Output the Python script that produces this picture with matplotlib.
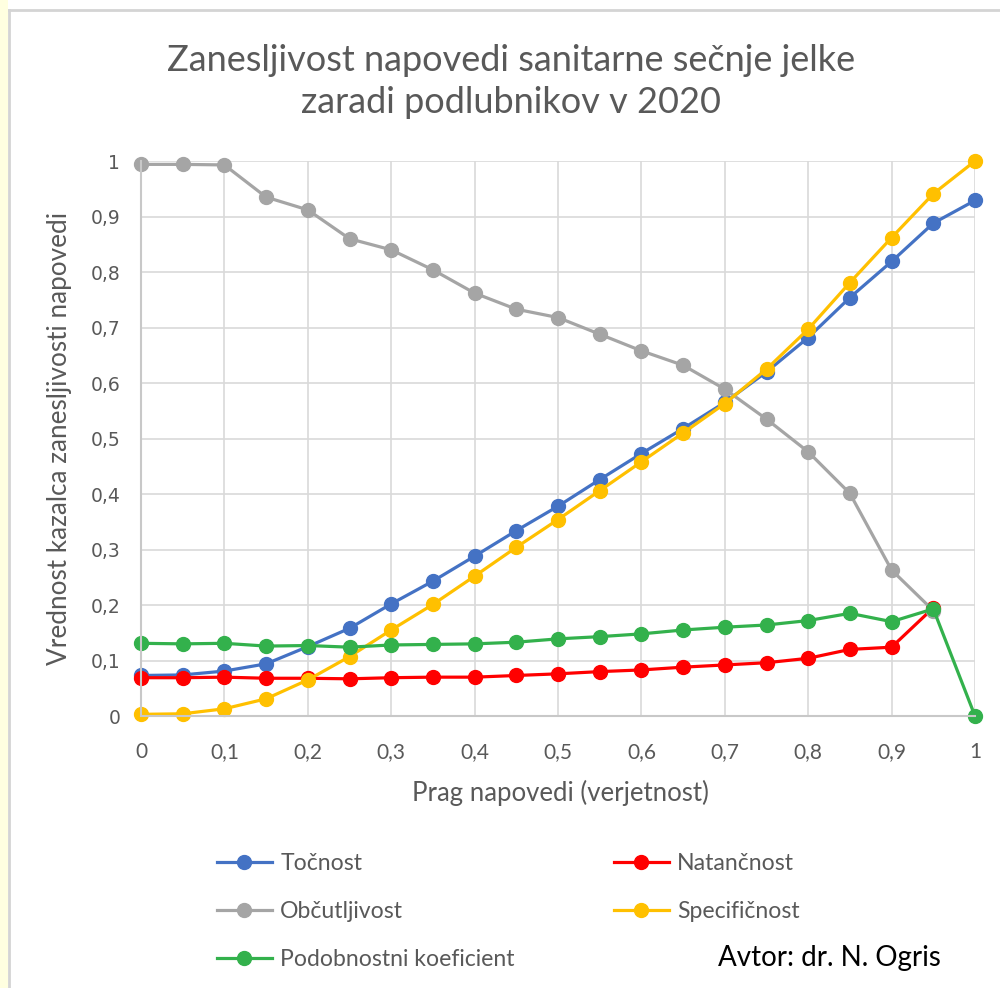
import matplotlib.pyplot as plt
from matplotlib.patches import Rectangle
from matplotlib.lines import Line2D

plt.rcParams['font.family'] = ['Lato', 'DejaVu Sans']

prag = [0, 0.05, 0.1, 0.15, 0.2, 0.25, 0.3, 0.35, 0.4, 0.45, 0.5,
        0.55, 0.6, 0.65, 0.7, 0.75, 0.8, 0.85, 0.9, 0.95, 1]

tocnost = [0.073, 0.074, 0.081, 0.094, 0.125, 0.158, 0.202, 0.243, 0.288, 0.334, 0.378,
           0.426, 0.473, 0.518, 0.565, 0.620, 0.682, 0.754, 0.819, 0.888, 0.929]
natancnost = [0.069, 0.069, 0.070, 0.068, 0.068, 0.067, 0.069, 0.070, 0.070, 0.073, 0.076,
              0.080, 0.083, 0.088, 0.092, 0.096, 0.104, 0.120, 0.124, 0.195, None]
obcutljivost = [0.994, 0.994, 0.993, 0.935, 0.912, 0.860, 0.840, 0.804, 0.762, 0.733, 0.718,
                0.688, 0.658, 0.632, 0.589, 0.535, 0.476, 0.401, 0.263, 0.190, None]
specificnost = [0.003, 0.004, 0.013, 0.031, 0.065, 0.107, 0.155, 0.201, 0.252, 0.304, 0.354,
                0.406, 0.458, 0.510, 0.563, 0.625, 0.697, 0.781, 0.862, 0.941, 1.000]
podobnost = [0.131, 0.130, 0.131, 0.126, 0.127, 0.124, 0.128, 0.129, 0.130, 0.133, 0.139,
             0.143, 0.148, 0.155, 0.160, 0.164, 0.172, 0.185, 0.170, 0.193, 0.000]

serije = [
    ('Točnost', tocnost, '#4472C4'),
    ('Natančnost', natancnost, '#FF0000'),
    ('Občutljivost', obcutljivost, '#A5A5A5'),
    ('Specifičnost', specificnost, '#FFC000'),
    ('Podobnostni koeficient', podobnost, '#33B14C'),
]

ticks = [0, 0.1, 0.2, 0.3, 0.4, 0.5, 0.6, 0.7, 0.8, 0.9, 1]
tick_labels = ['0', '0,1', '0,2', '0,3', '0,4', '0,5', '0,6', '0,7', '0,8', '0,9', '1']

fig = plt.figure(figsize=(10, 9.88), dpi=100)
ax = fig.add_axes([0.141, 0.2753, 0.834, 0.5617])

handles = {}
for ime, vr, barva in serije:
    xs = [x for x, v in zip(prag, vr) if v is not None]
    ys = [v for v in vr if v is not None]
    h, = ax.plot(xs, ys, color=barva, lw=2.3, marker='o', ms=10, clip_on=False, label=ime)
    handles[ime] = h

ax.set_xlim(0, 1)
ax.set_ylim(0, 1)
ax.set_xticks(ticks)
ax.set_xticklabels(tick_labels, fontsize=15)
ax.set_yticks(ticks)
ax.set_yticklabels(tick_labels, fontsize=13.5, family='DejaVu Sans')
ax.tick_params(length=0, colors='#595959')
ax.tick_params(axis='x', pad=19)
ax.tick_params(axis='y', pad=15)
ax.grid(True, color='#d9d9d9', lw=1.2)
ax.set_axisbelow(True)
for s in ['top', 'right']:
    ax.spines[s].set_visible(False)
for s in ['left', 'bottom']:
    ax.spines[s].set_color('#c8c8c8')
    ax.spines[s].set_linewidth(1.5)

fig.text(0.56, 0.197, 'Prag napovedi (verjetnost)', fontsize=18.5, color='#595959',
         ha='center', va='center')
fig.text(0.06, 0.5567, 'Vrednost kazalca zanesljivosti napovedi', fontsize=18.8, color='#595959',
         ha='center', va='center', rotation=90)

fig.text(0.511, 0.9175, 'Zanesljivost napovedi sanitarne sečnje jelke\nzaradi podlubnikov v 2020',
         ha='center', va='center', fontsize=26, color='#595959', linespacing=1.36)

red = ['Točnost', 'Občutljivost', 'Podobnostni koeficient', 'Natančnost', 'Specifičnost']
fig.legend([handles[k] for k in red], red, ncol=2, loc='upper left',
           bbox_to_anchor=(0.196, 0.158), frameon=False, fontsize=16.6,
           labelcolor='#595959', handlelength=2.4, handletextpad=0.35,
           columnspacing=4.3, labelspacing=1.18)

fig.text(0.718, 0.030, 'Avtor: dr. N. Ogris', fontsize=20, color='black', va='center')

# okvir
fig.add_artist(Rectangle((0, 0), 0.008, 1, transform=fig.transFigure, color='#FFFFE0', lw=0))
fig.add_artist(Line2D([0.0085, 0.0085], [0, 0.99], transform=fig.transFigure, color='#d4d4d4', lw=2))
fig.add_artist(Line2D([0.0085, 1], [0.99, 0.99], transform=fig.transFigure, color='#d4d4d4', lw=2))

fig.savefig('out.png', dpi=100)
